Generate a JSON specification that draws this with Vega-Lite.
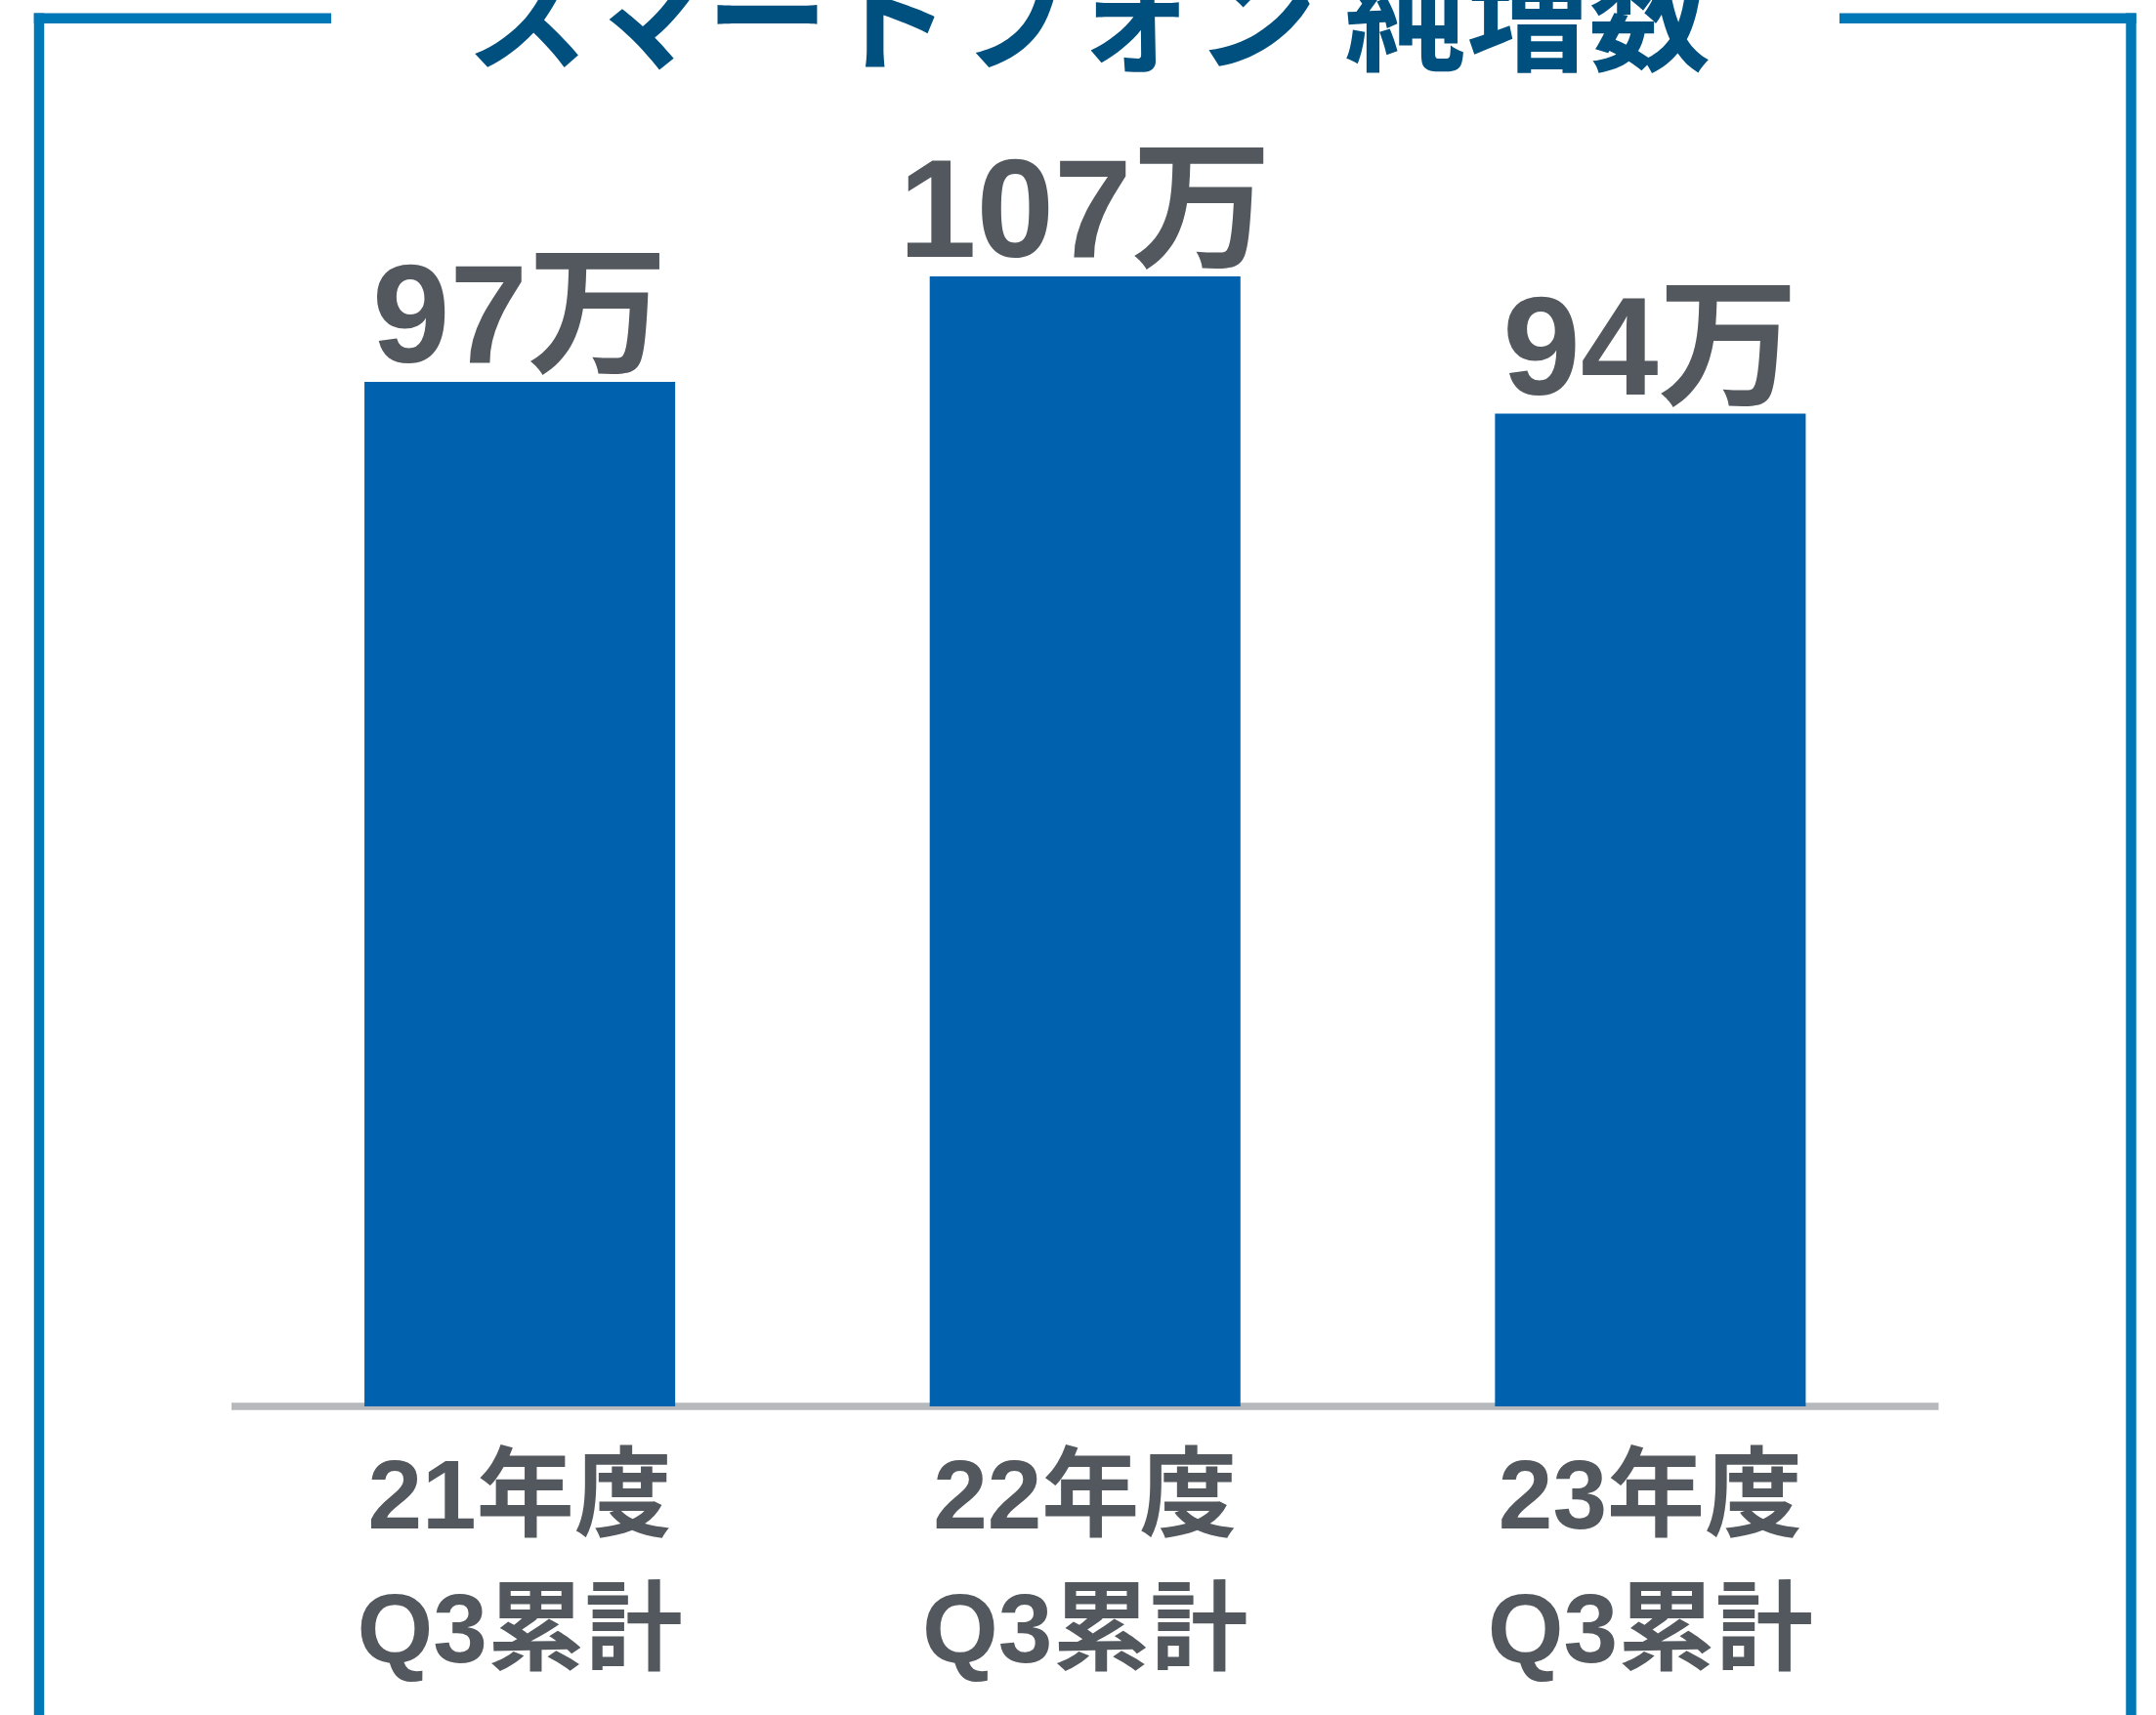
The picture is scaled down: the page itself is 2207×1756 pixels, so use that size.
{
  "$schema": "https://vega.github.io/schema/vega-lite/v6.json",
  "width": 2141.5,
  "height": 1421.2,
  "autosize": {"type": "none"},
  "padding": {"left": 40, "top": 18.8, "right": 25.5, "bottom": 316},
  "background": "white",
  "config": {"view": {"stroke": null}, "font": "Noto Sans CJK JP"},
  "layer": [
    {
      "layer": [
        {
          "data": {"values": [{"from": "21年度Q3累計", "to": "23年度Q3累計"}]},
          "mark": {"type": "rule", "color": "#b6b9bc", "strokeWidth": 7.7},
          "encoding": {
            "x": {"field": "from", "type": "nominal", "bandPosition": -0.4277, "scale": {"paddingInner": 0.4503, "paddingOuter": 0.5756}},
            "x2": {"field": "to", "bandPosition": 1.4277},
            "y": {"datum": 0, "type": "quantitative", "scale": {"domain": [0, 131.43], "nice": false}, "axis": null}
          }
        },
        {
          "data": {"values": [
            {"period": "21年度Q3累計", "value": 97, "label": "97万"},
            {"period": "22年度Q3累計", "value": 107, "label": "107万"},
            {"period": "23年度Q3累計", "value": 94, "label": "94万"}
          ]},
          "layer": [
            {
              "mark": {"type": "bar", "color": "#0062af", "width": {"band": 1}},
              "encoding": {
                "x": {
                  "field": "period", "type": "nominal",
                  "scale": {"paddingInner": 0.4503, "paddingOuter": 0.5756},
                  "axis": {
                    "title": null, "domain": false, "ticks": false, "tickSize": 0, "grid": false,
                    "labelPadding": 124, "labelFontSize": 100, "labelFont": "Liberation Sans, Noto Sans CJK JP",
                    "labelFontWeight": "bold", "labelColor": "#53585f", "labelBaseline": "alphabetic",
                    "labelAlign": "center", "labelFlush": false,
                    "labelLineHeight": 137, "labelAngle": 0, "labelLimit": 0, "labelOverlap": false,
                    "labelExpr": "[slice(datum.label, 0, 4), slice(datum.label, 4)]"
                  }
                },
                "y": {"field": "value", "type": "quantitative", "scale": {"domain": [0, 131.43], "nice": false}, "axis": null}
              }
            },
            {
              "mark": {"type": "text", "font": "Liberation Sans, Noto Sans CJK JP", "fontSize": 143, "fontWeight": "bold", "color": "#53585f", "baseline": "alphabetic", "align": "center", "dy": -20},
              "encoding": {
                "x": {"field": "period", "type": "nominal"},
                "y": {"field": "value", "type": "quantitative"},
                "text": {"field": "label"}
              }
            }
          ]
        }
      ]
    },
    {
      "data": {"values": [{"title": "スマートフォン 純増数"}]},
      "mark": {"type": "text", "font": "Noto Sans CJK JP", "fontSize": 125, "fontWeight": "bold", "color": "#00507f", "baseline": "alphabetic", "align": "center", "dy": 44},
      "encoding": {
        "x": {"datum": 0.5015, "type": "quantitative", "scale": {"domain": [0, 1], "nice": false, "zero": false}, "axis": null},
        "y": {"datum": 1, "type": "quantitative", "scale": {"domain": [0, 1], "nice": false, "zero": false}, "axis": null},
        "text": {"field": "title"}
      }
    },
    {
      "data": {"values": [{}]},
      "mark": {"type": "rule", "color": "#0077b6", "strokeWidth": 10.5, "strokeCap": "square"},
      "encoding": {
        "x": {"datum": 0, "type": "quantitative", "scale": {"domain": [0, 1], "nice": false, "zero": false}, "axis": null},
        "y": {"datum": 1, "type": "quantitative", "scale": {"domain": [0, 1], "nice": false, "zero": false}, "axis": null},
        "y2": {"datum": -0.3}
      }
    },
    {
      "data": {"values": [{}]},
      "mark": {"type": "rule", "color": "#0077b6", "strokeWidth": 10.5, "strokeCap": "square"},
      "encoding": {
        "x": {"datum": 1, "type": "quantitative", "scale": {"domain": [0, 1], "nice": false, "zero": false}, "axis": null},
        "y": {"datum": 1, "type": "quantitative", "scale": {"domain": [0, 1], "nice": false, "zero": false}, "axis": null},
        "y2": {"datum": -0.3}
      }
    },
    {
      "data": {"values": [{}]},
      "mark": {"type": "rule", "color": "#0077b6", "strokeWidth": 10.5, "strokeCap": "square"},
      "encoding": {
        "x": {"datum": 0, "type": "quantitative", "scale": {"domain": [0, 1], "nice": false, "zero": false}, "axis": null},
        "x2": {"datum": 0.13717},
        "y": {"datum": 1, "type": "quantitative", "scale": {"domain": [0, 1], "nice": false, "zero": false}, "axis": null}
      }
    },
    {
      "data": {"values": [{}]},
      "mark": {"type": "rule", "color": "#0077b6", "strokeWidth": 10.5, "strokeCap": "square"},
      "encoding": {
        "x": {"datum": 0.86306, "type": "quantitative", "scale": {"domain": [0, 1], "nice": false, "zero": false}, "axis": null},
        "x2": {"datum": 1},
        "y": {"datum": 1, "type": "quantitative", "scale": {"domain": [0, 1], "nice": false, "zero": false}, "axis": null}
      }
    }
  ],
  "resolve": {"scale": {"x": "independent", "y": "independent"}}
}
